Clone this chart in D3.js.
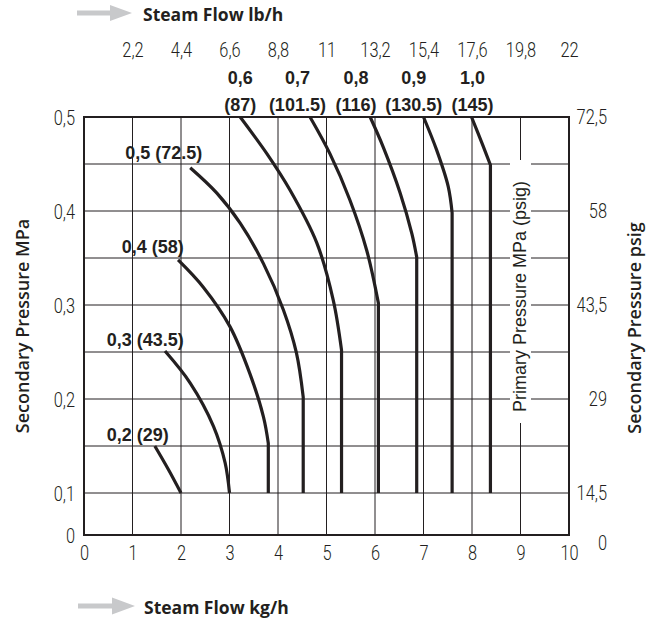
<!DOCTYPE html>
<html><head><meta charset="utf-8">
<script src="https://cdn.jsdelivr.net/npm/d3@7"></script>
<style>
html,body{margin:0;padding:0;background:#fff;}
svg{display:block;}
.tick{font-family:Roboto,"Liberation Sans",Arial,sans-serif;font-weight:300;font-size:20px;fill:#231f20;}
.clabel{font-family:"Liberation Sans",Arial,sans-serif;font-weight:700;font-size:18px;fill:#231f20;}
.title{font-family:"Open Sans",sans-serif;fill:#231f20;}
</style></head><body>
<svg id="chart" width="657" height="621"></svg>
<script>
// ---- data ----
const kgTicks = [0,1,2,3,4,5,6,7,8,9,10];
const kgLabels = ["0","1","2","3","4","5","6","7","8","9","10"];
const lbTicks = [1,2,3,4,5,6,7,8,9,10];
const lbLabels = ["2,2","4,4","6,6","8,8","11","13,2","15,4","17,6","19,8","22"];
const mpaTicks = [0,0.1,0.2,0.3,0.4,0.5];
const mpaLabels = ["0","0,1","0,2","0,3","0,4","0,5"];
const psigLabels = ["0","14,5","29","43,5","58","72,5"];
const gridX = [1,2,3,4,5,6,7,8,9];
const gridY = [0.1,0.15,0.2,0.25,0.3,0.35,0.4,0.45];

// curves: [steam flow kg/h, secondary pressure MPa], top to bottom
const curve02 = [[1.46,0.150],[1.74,0.125],[2.00,0.100]];
const curve03 = [[1.67,0.251],[2.19,0.217],[2.67,0.171],[2.91,0.132],[3.00,0.100]];
const curve04 = [[1.94,0.348],[2.46,0.319],[3.01,0.277],[3.42,0.227],[3.70,0.181],[3.80,0.153],[3.80,0.100]];
const curve05 = [[2.19,0.446],[2.74,0.419],[3.22,0.387],[3.70,0.344],[4.11,0.295],[4.38,0.249],[4.52,0.202],[4.52,0.100]];
const curve06 = [[3.22,0.500],[3.77,0.461],[4.25,0.422],[4.80,0.366],[5.14,0.305],[5.31,0.252],[5.31,0.100]];
const curve07 = [[4.66,0.500],[5.07,0.461],[5.48,0.412],[5.83,0.358],[6.07,0.302],[6.07,0.100]];
const curve08 = [[5.90,0.500],[6.17,0.468],[6.52,0.419],[6.76,0.376],[6.86,0.351],[6.86,0.100]];
const curve09 = [[7.00,0.500],[7.27,0.465],[7.51,0.426],[7.59,0.398],[7.59,0.100]];
const curve10 = [[7.99,0.500],[8.23,0.469],[8.38,0.449],[8.38,0.100]];
const curves = [curve02,curve03,curve04,curve05,curve06,curve07,curve08,curve09,curve10];

const sideLabels = ["0,2 (29)","0,3 (43.5)","0,4 (58)","0,5 (72.5)"];
const sideAnchors = [[0.47,0.162],[0.47,0.263],[0.78,0.362],[0.85,0.462]];
const topLabelsMPa = ["0,6","0,7","0,8","0,9","1,0"];
const topLabelsPsig = ["(87)","(101.5)","(116)","(130.5)","(145)"];
const topAnchors = [3.22,4.40,5.61,6.80,8.01];

// ---- drawing ----
const svg = d3.select("#chart");
const ink = "#231f20";
const x = d3.scaleLinear().domain([0,10]).range([84,569]);
const y = d3.scaleLinear().domain([0,0.1,0.5]).range([535,493,117]);

// grid
const g = svg.append("g");
g.selectAll("line.gx").data(gridX).join("line")
  .attr("x1",d=>x(d)).attr("x2",d=>x(d)).attr("y1",y(0)).attr("y2",y(0.5))
  .attr("stroke",ink).attr("stroke-width",1);
g.selectAll("line.gy").data(gridY).join("line")
  .attr("x1",x(0)).attr("x2",x(10)).attr("y1",d=>y(d)).attr("y2",d=>y(d))
  .attr("stroke",ink).attr("stroke-width",1);

// label knock-out for primary pressure label
svg.append("rect").attr("x",510).attr("y",160).attr("width",21).attr("height",263).attr("fill","#fff");
svg.append("text").attr("class","title")
  .attr("transform","translate(526,296.5) rotate(-90)")
  .attr("text-anchor","middle")
  .style("font-family",'"Liberation Sans",Arial,sans-serif')
  .style("font-size","18px")
  .text("Primary Pressure MPa (psig)");

// curves
const smooth = d3.line().x(d=>x(d[0])).y(d=>y(d[1])).curve(d3.curveCatmullRom.alpha(0.5));
function curvePath(pts){
  const n = pts.length;
  if (n > 2 && pts[n-1][0] === pts[n-2][0]) {
    return smooth(pts.slice(0,-1)) + "L" + x(pts[n-1][0]) + "," + y(pts[n-1][1]);
  }
  return smooth(pts);
}
svg.append("g").selectAll("path").data(curves).join("path")
  .attr("d",curvePath).attr("fill","none").attr("stroke",ink)
  .attr("stroke-width",3.2).attr("stroke-linejoin","miter");

// border
svg.append("rect").attr("x",x(0)).attr("y",y(0.5))
  .attr("width",x(10)-x(0)).attr("height",y(0)-y(0.5))
  .attr("fill","none").attr("stroke",ink).attr("stroke-width",2);

// axes
const axB = d3.axisBottom(x).tickValues(kgTicks).tickSize(0).tickPadding(0).tickFormat((d,i)=>kgLabels[i]);
const axT = d3.axisTop(x).tickValues(lbTicks).tickSize(0).tickPadding(0).tickFormat((d,i)=>lbLabels[i]);
const axL = d3.axisLeft(y).tickValues(mpaTicks).tickSize(0).tickPadding(0).tickFormat((d,i)=>mpaLabels[i]);
const axR = d3.axisRight(y).tickValues(mpaTicks).tickSize(0).tickPadding(0).tickFormat((d,i)=>psigLabels[i]);

function styleAxis(sel){
  sel.select(".domain").remove();
  sel.attr("font-family",null).attr("font-size",null);
  sel.selectAll("text").attr("class","tick").attr("fill",ink).attr("dy",null);
}
// condensed look: squeeze glyphs horizontally around their anchor
function condense(sel, dx, dyFn, anchor){
  sel.selectAll("text").each(function(d){
    d3.select(this).attr("x",0).attr("y",0).attr("text-anchor",anchor)
      .attr("transform",`translate(${dx},${dyFn(d)}) scale(0.82,1)`);
  });
}
const gB = svg.append("g").attr("transform",`translate(0,${y(0)})`).call(axB).call(styleAxis);
condense(gB, 0, ()=>24.5, "middle");
const gT = svg.append("g").attr("transform",`translate(0,${y(0.5)})`).call(axT).call(styleAxis);
condense(gT, 0, ()=>-60, "middle");
const gL = svg.append("g").attr("transform",`translate(75,0)`).call(axL).call(styleAxis);
condense(gL, 0, ()=>7, "end");
const gR = svg.append("g").attr("transform",`translate(607,0)`).call(axR).call(styleAxis);
condense(gR, 0, d=> d===0 ? 14 : 6, "end");

// curve labels
svg.append("g").selectAll("text").data(sideLabels).join("text")
  .attr("class","clabel")
  .attr("x",(d,i)=>x(sideAnchors[i][0])).attr("y",(d,i)=>y(sideAnchors[i][1]))
  .attr("dy","0.35em").text(d=>d);
const tl = svg.append("g");
tl.selectAll("text.a").data(topLabelsMPa).join("text").attr("class","clabel")
  .attr("x",(d,i)=>x(topAnchors[i])).attr("y",y(0.5)-39).attr("dy","0.35em")
  .attr("text-anchor","middle").text(d=>d);
tl.selectAll("text.b").data(topLabelsPsig).join("text").attr("class","clabel")
  .attr("x",(d,i)=>x(topAnchors[i])).attr("y",y(0.5)-12).attr("dy","0.35em")
  .attr("text-anchor","middle").text(d=>d);

// titles and arrows
const gray = "#c8c9cb";
function arrow(x0, x1, cy, headLen, headH, shaftH){
  const p = d3.path();
  p.moveTo(x0, cy - shaftH/2);
  p.lineTo(x1 - headLen, cy - shaftH/2);
  p.lineTo(x1 - headLen, cy - headH/2);
  p.lineTo(x1, cy);
  p.lineTo(x1 - headLen, cy + headH/2);
  p.lineTo(x1 - headLen, cy + shaftH/2);
  p.lineTo(x0, cy + shaftH/2);
  p.closePath();
  return p.toString();
}
svg.append("path").attr("d",arrow(77,132,13,22,16,5)).attr("fill",gray);
svg.append("path").attr("d",arrow(78,135,606,23,17,5)).attr("fill",gray);
svg.append("text").attr("class","title").attr("x",143).attr("y",20.7)
  .style("font-weight",700).style("font-size","17.5px").text("Steam Flow lb/h");
svg.append("text").attr("class","title").attr("x",144).attr("y",614)
  .style("font-weight",700).style("font-size","17.5px").text("Steam Flow kg/h");
svg.append("text").attr("class","title").attr("transform","translate(29,326) rotate(-90)")
  .attr("text-anchor","middle").style("font-weight",600).style("font-size","18px")
  .text("Secondary Pressure MPa");
svg.append("text").attr("class","title").attr("transform","translate(641,328) rotate(-90)")
  .attr("text-anchor","middle").style("font-weight",600).style("font-size","18px")
  .text("Secondary Pressure psig");
</script>
</body></html>
